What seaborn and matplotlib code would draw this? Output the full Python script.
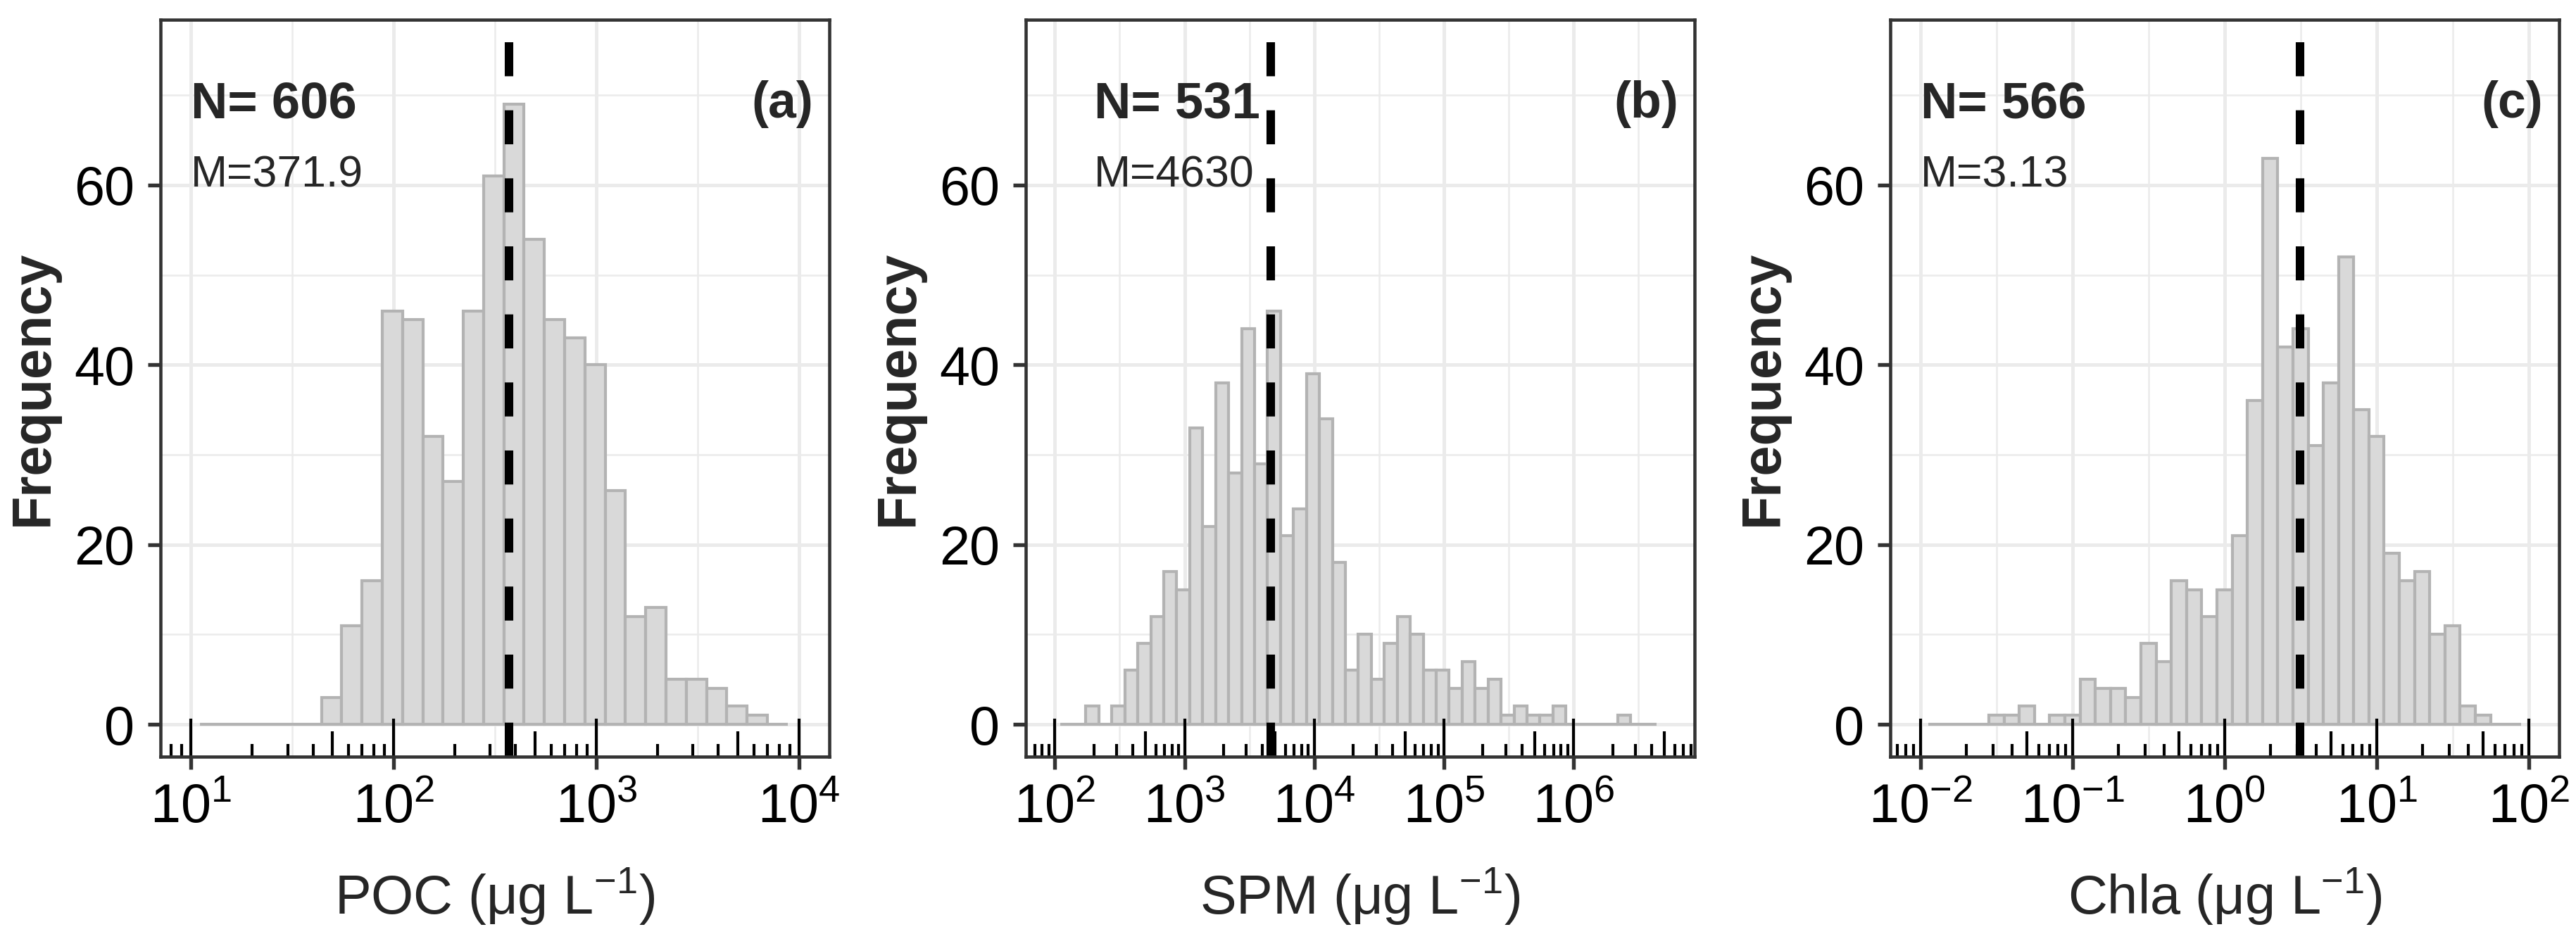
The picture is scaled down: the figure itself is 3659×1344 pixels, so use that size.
import numpy as np
import pandas as pd
import matplotlib
matplotlib.use("Agg")
import matplotlib.pyplot as plt
import matplotlib.ticker as mticker
import seaborn as sns

# ---------------- data (histogram counts per log10 bin of width 0.1) ----------------
BINWIDTH = 0.1

poc_first_edge = 1.044
poc_counts = [0, 0, 0, 0, 0, 0, 3, 11, 16, 46, 45, 32, 27, 46, 61, 69, 54, 45,
              43, 40, 26, 12, 13, 5, 5, 4, 2, 1, 0]

spm_first_edge = 2.04
spm_counts = [0, 0, 2, 0, 2, 6, 9, 12, 17, 15, 33, 22, 38, 28, 44, 29, 46, 21,
              24, 39, 34, 18, 6, 10, 5, 9, 12, 10, 6, 6, 4, 7, 4, 5, 1, 2, 1, 1,
              2, 0, 0, 0, 0, 1, 0, 0]

chla_first_edge = -1.951
chla_counts = [0, 0, 0, 0, 1, 1, 2, 0, 1, 1, 5, 4, 4, 3, 9, 7, 16, 15, 12, 15,
               21, 36, 63, 42, 44, 31, 38, 52, 35, 32, 19, 16, 17, 10, 11, 2, 1,
               0, 0]

means = [371.9, 4630, 3.13]
n_labels = ["N= 606", "N= 531", "N= 566"]
mean_labels = ["M=371.9", "M=4630", "M=3.13"]
panel_tags = ["(a)", "(b)", "(c)"]
x_titles = ["POC (\u03bcg L$^{-1}$)", "SPM (\u03bcg L$^{-1}$)", "Chla (\u03bcg L$^{-1}$)"]

poc_xticks = [1e1, 1e2, 1e3, 1e4]
poc_xticklabels = ["$10^{1}$", "$10^{2}$", "$10^{3}$", "$10^{4}$"]
spm_xticks = [1e2, 1e3, 1e4, 1e5, 1e6]
spm_xticklabels = ["$10^{2}$", "$10^{3}$", "$10^{4}$", "$10^{5}$", "$10^{6}$"]
chla_xticks = [1e-2, 1e-1, 1e0, 1e1, 1e2]
chla_xticklabels = ["$10^{-2}$", "$10^{-1}$", "$10^{0}$", "$10^{1}$", "$10^{2}$"]

y_ticks = [0, 20, 40, 60]
y_minor = [10, 30, 50, 70]
y_limits = (-3.6, 78.4)
x_limits_log = [(0.85, 4.15), (1.776, 6.932), (-2.2, 2.2)]
text_x = [10, 200, 0.01]

# ---------------- style ----------------
sns.set_theme(style="white")
plt.rcParams["font.family"] = ["Liberation Sans", "DejaVu Sans"]
plt.rcParams["mathtext.fontset"] = "custom"
plt.rcParams["mathtext.rm"] = "Liberation Sans"
plt.rcParams["mathtext.it"] = "Liberation Sans:italic"
plt.rcParams["mathtext.bf"] = "Liberation Sans:bold"
plt.rcParams["mathtext.default"] = "regular"

FILL = "#D9D9D9"
EDGE = "#B3B3B3"
GRID = "#EBEBEB"
DARK = "#333333"

W, H, DPI = 3659, 1344, 300
fig = plt.figure(figsize=(W / DPI, H / DPI), dpi=DPI)
fig.patch.set_facecolor("white")

ax_lefts = [228, 1457, 2685]
ax_width = 950
ax_top, ax_bottom = 28, 1075

panels = [
    (poc_first_edge, poc_counts, poc_xticks, poc_xticklabels),
    (spm_first_edge, spm_counts, spm_xticks, spm_xticklabels),
    (chla_first_edge, chla_counts, chla_xticks, chla_xticklabels),
]

LONG, MID, SHORT = 54 / 1047, 36 / 1047, 18 / 1047

for i, (first_edge, counts, xt, xtl) in enumerate(panels):
    left = ax_lefts[i] / W
    bottom = 1 - ax_bottom / H
    ax = fig.add_axes([left, bottom, ax_width / W, (ax_bottom - ax_top) / H])
    ax.set_facecolor("white")

    counts = np.asarray(counts, dtype=float)
    log_edges = first_edge + BINWIDTH * np.arange(len(counts) + 1)
    edges = (10 ** log_edges).tolist()
    centers = 10 ** (log_edges[:-1] + BINWIDTH / 2)
    df = pd.DataFrame({"x": centers, "w": counts})

    sns.histplot(data=df, x="x", weights="w", bins=edges, ax=ax,
                 color=FILL, alpha=1, edgecolor=EDGE, linewidth=1.0,
                 zorder=2)
    ax.set_xscale("log")
    lo, hi = x_limits_log[i]
    ax.set_xlim(10 ** lo, 10 ** hi)
    ax.set_ylim(*y_limits)

    # ticks and grid
    ax.xaxis.set_major_locator(mticker.FixedLocator(xt))
    ax.xaxis.set_major_formatter(mticker.FixedFormatter(xtl))
    minor_x = [10 ** (np.log10(v) + 0.5) for v in xt] + [10 ** (np.log10(xt[0]) - 0.5)]
    ax.xaxis.set_minor_locator(mticker.FixedLocator(minor_x))
    ax.xaxis.set_minor_formatter(mticker.NullFormatter())
    ax.yaxis.set_major_locator(mticker.FixedLocator(y_ticks))
    ax.yaxis.set_minor_locator(mticker.FixedLocator(y_minor))

    ax.grid(True, which="major", color=GRID, linewidth=1.2, zorder=0)
    ax.grid(True, which="minor", color=GRID, linewidth=0.6, zorder=0)
    ax.set_axisbelow(True)

    ax.tick_params(axis="both", which="major", direction="out", length=4.25,
                   width=1.3, color=DARK, labelsize=18.6, labelcolor="black",
                   pad=4.6, bottom=True, left=True)
    ax.tick_params(axis="both", which="minor", length=0)

    for sp in ax.spines.values():
        sp.set_visible(True)
        sp.set_color(DARK)
        sp.set_linewidth(1.1)
        sp.set_zorder(6)

    # mean line
    ax.axvline(means[i], color="black", linewidth=2.9, linestyle=(0, (4, 4)),
               zorder=4)

    # log ticks (annotation_logticks, bottom side)
    trans = ax.get_xaxis_transform()
    xs, hs = [], []
    for n in range(int(np.floor(lo)) - 1, int(np.ceil(hi)) + 1):
        for k in range(1, 10):
            v = k * 10.0 ** n
            if 10 ** lo <= v <= 10 ** hi:
                xs.append(v)
                hs.append(LONG if k == 1 else (MID if k == 5 else SHORT))
    ax.vlines(xs, 0, hs, transform=trans, colors="black", linewidth=1.0,
              zorder=5)

    # annotations
    ax.text(text_x[i], 67.5, n_labels[i], fontsize=17.4, fontweight="bold",
            ha="left", va="baseline", zorder=7)
    ax.text(text_x[i], 59.8, mean_labels[i], fontsize=15, ha="left",
            va="baseline", zorder=7)
    ax.text(0.976, 67.5, panel_tags[i], transform=ax.get_yaxis_transform(),
            fontsize=17.2, fontweight="bold", ha="right", va="baseline",
            zorder=7)

    ax.set_xlabel(x_titles[i], fontsize=18.6, labelpad=11)
    ax.set_ylabel("Frequency", fontsize=18.6, fontweight="bold", labelpad=5)

fig.savefig("out.png", dpi=DPI, facecolor="white")
